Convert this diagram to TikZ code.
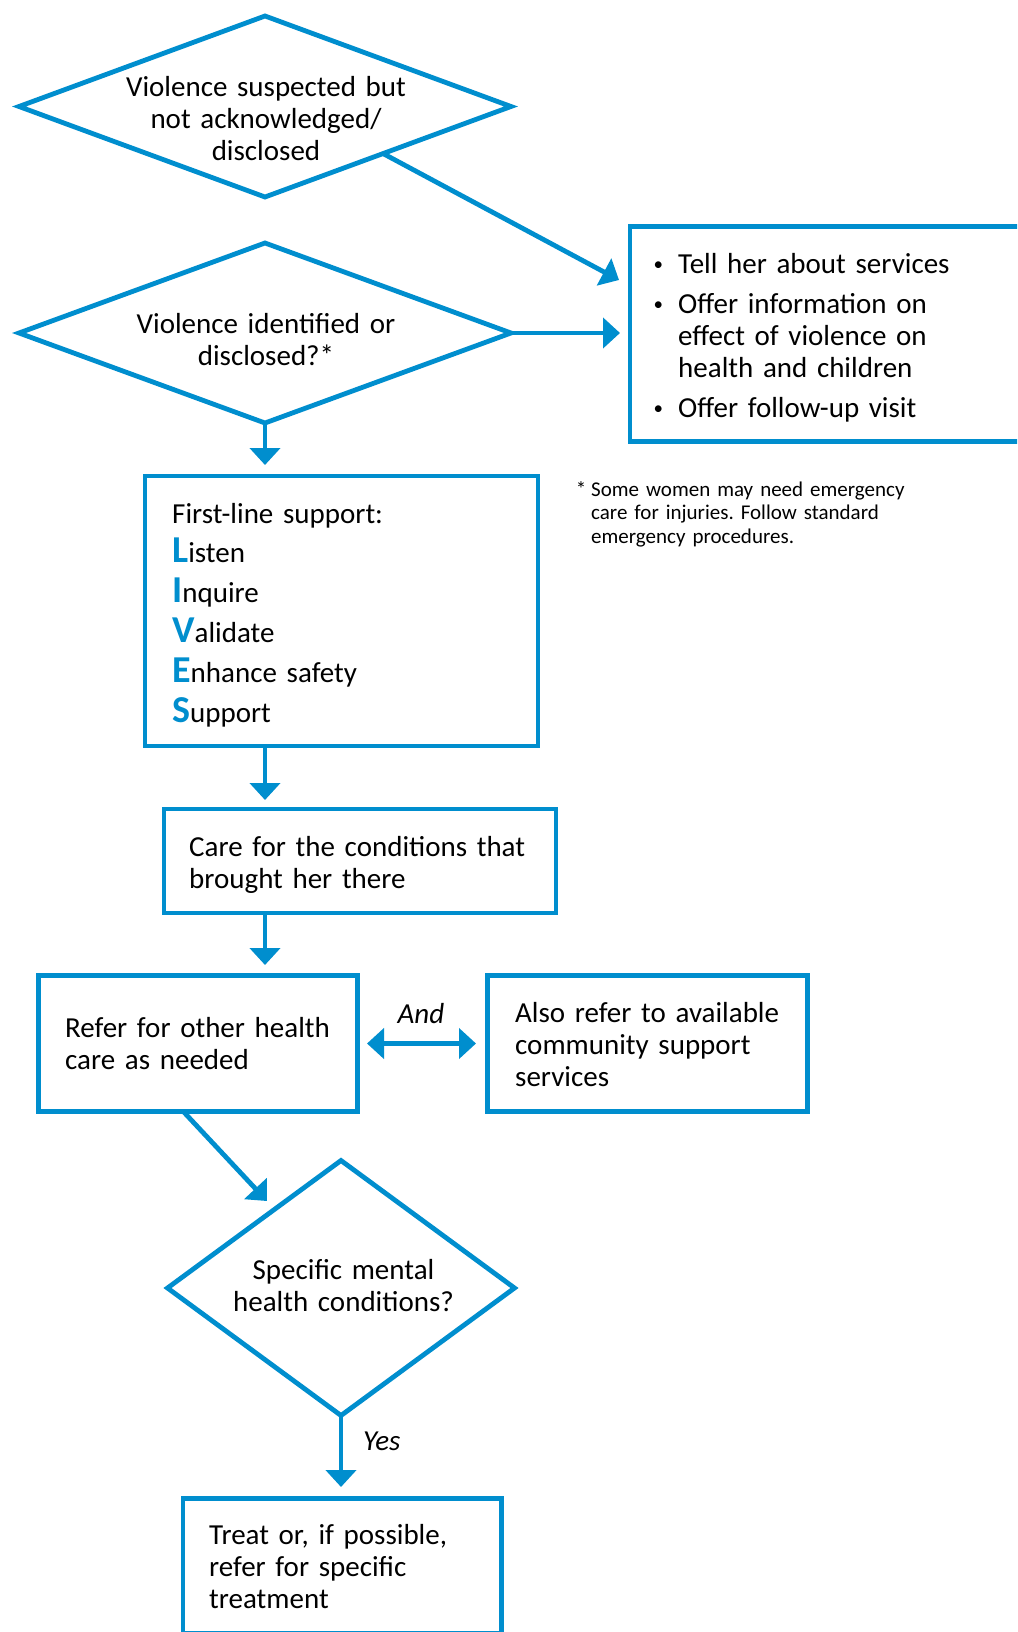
\documentclass[tikz,border=0pt]{standalone}
\usepackage{fontspec}
\setmainfont{Carlito}
\usetikzlibrary{arrows.meta,shapes.geometric,calc}
\definecolor{whoblue}{RGB}{0,142,206}
\frenchspacing
\newcommand{\livesl}[1]{{\fontsize{38}{38}\selectfont\bfseries\color{whoblue}#1}}
\newcommand{\bulitem}{\leavevmode\llap{\raisebox{2.5pt}{\fontsize{19}{19}\selectfont\textbullet}\hspace{15pt}}}
\begin{document}
\begin{tikzpicture}[x=1pt,y=-1pt,
  box/.style={draw=whoblue, line width=4.8pt, rectangle, inner sep=0pt, outer sep=0pt},
  dia/.style={draw=whoblue, line width=4.8pt, diamond, inner sep=0pt, outer sep=0pt},
  arr/.style={draw=whoblue, line width=4.8pt, -{Triangle[length=17pt,width=30pt]}},
  darr/.style={draw=whoblue, line width=4.8pt, {Triangle[length=17pt,width=30pt]}-{Triangle[length=17pt,width=30pt]}},
  txtc/.style={font=\fontsize{29}{32}\selectfont, inner sep=0pt, text width=420pt, align=center, anchor=base},
  txtl/.style={font=\fontsize{29}{32}\selectfont, inner sep=0pt, text width=420pt, align=left, anchor=base west},
  note/.style={font=\fontsize{21}{23.5}\selectfont, inner sep=0pt, text width=400pt, align=left, anchor=base west},
  lab/.style={font=\fontsize{29}{32}\selectfont\itshape, inner sep=0pt},
]
\path[use as bounding box, clip] (0,0) rectangle (1017,1632);
\fill[white] (0,0) rectangle (1017,1632);

% shapes
\node[dia, minimum width=492pt, minimum height=181pt] (d1) at (265,106.5) {};
\node[dia, minimum width=492pt, minimum height=180pt] (d2) at (265,333) {};
\node[box, minimum width=430pt, minimum height=215pt] (rb) at (845,334) {};
\node[box, minimum width=393pt, minimum height=270pt] (b1) at (341.5,611) {};
\node[box, minimum width=392pt, minimum height=104pt] (b2) at (360,861) {};
\node[box, minimum width=319pt, minimum height=136pt] (b3) at (198,1043.5) {};
\node[box, minimum width=320pt, minimum height=136pt] (b4) at (647.5,1043.5) {};
\node[dia, minimum width=347pt, minimum height=255pt] (d3) at (341,1288) {};
\node[box, minimum width=318.5pt, minimum height=134.5pt] (b5) at (342.25,1565.75) {};

% texts
\node[txtc] (d1t) at (266,97) {Violence suspected but\\not acknowledged/\\disclosed};
\node[txtc] (d2t) at (266,333) {Violence identified or\\disclosed?*};
\node[txtl] (rbt) at (678,273) {\bulitem Tell her about services\\[8pt]\bulitem Offer information on\\effect of violence on\\health and children\\[8pt]\bulitem Offer follow-up visit};
\node[note] (fn) at (591,496) {\llap{*\hspace{5pt}}Some women may need emergency\\care for injuries. Follow standard\\emergency procedures.};
\node[txtl, font=\fontsize{29}{39.8}\selectfont] (b1t) at (172,523) {First-line support:\\\livesl{L}isten\\\livesl{I}nquire\\\livesl{V}alidate\\\livesl{E}nhance safety\\\livesl{S}upport};
\node[txtl] (b2t) at (189,856) {Care for the conditions that\\brought her there};
\node[txtl] (b3t) at (65,1037) {Refer for other health\\care as needed};
\node[txtl] (b4t) at (515,1022) {Also refer to available\\community support\\services};
\node[txtc] (d3t) at (343.5,1279) {Specific mental\\health conditions?};
\node[txtl] (b5t) at (209,1544) {Treat or, if possible,\\refer for specific\\treatment};
\node[lab, anchor=base] (andl) at (421,1023) {And};
\node[lab, anchor=base west] (yesl) at (363,1450) {Yes};

% connectors
\coordinate (t1) at (619,280);
\coordinate (t7) at (267,1201);
\draw[arr] ($(d1.south)!0.48!(d1.east)$) -- (t1);
\draw[arr, shorten >=10pt] (d2.east) -- (d2.east -| rb.west);
\draw[arr, shorten >=11pt] (d2.south) -- (d2.south |- b1.north);
\draw[arr, shorten >=9pt] (b1.south -| d2.south) -- (b2.north -| d2.south);
\draw[arr, shorten >=10.5pt] (b2.south -| d2.south) -- (b3.north -| d2.south);
\draw[darr, shorten <=9.5pt, shorten >=11.5pt] (b3.east) -- (b4.west);
\draw[arr] ($(b3.south west)!0.454!(b3.south east)$) -- (t7);
\draw[arr, shorten >=11.5pt] (d3.south) -- (d3.south |- b5.north);
\end{tikzpicture}
\end{document}
